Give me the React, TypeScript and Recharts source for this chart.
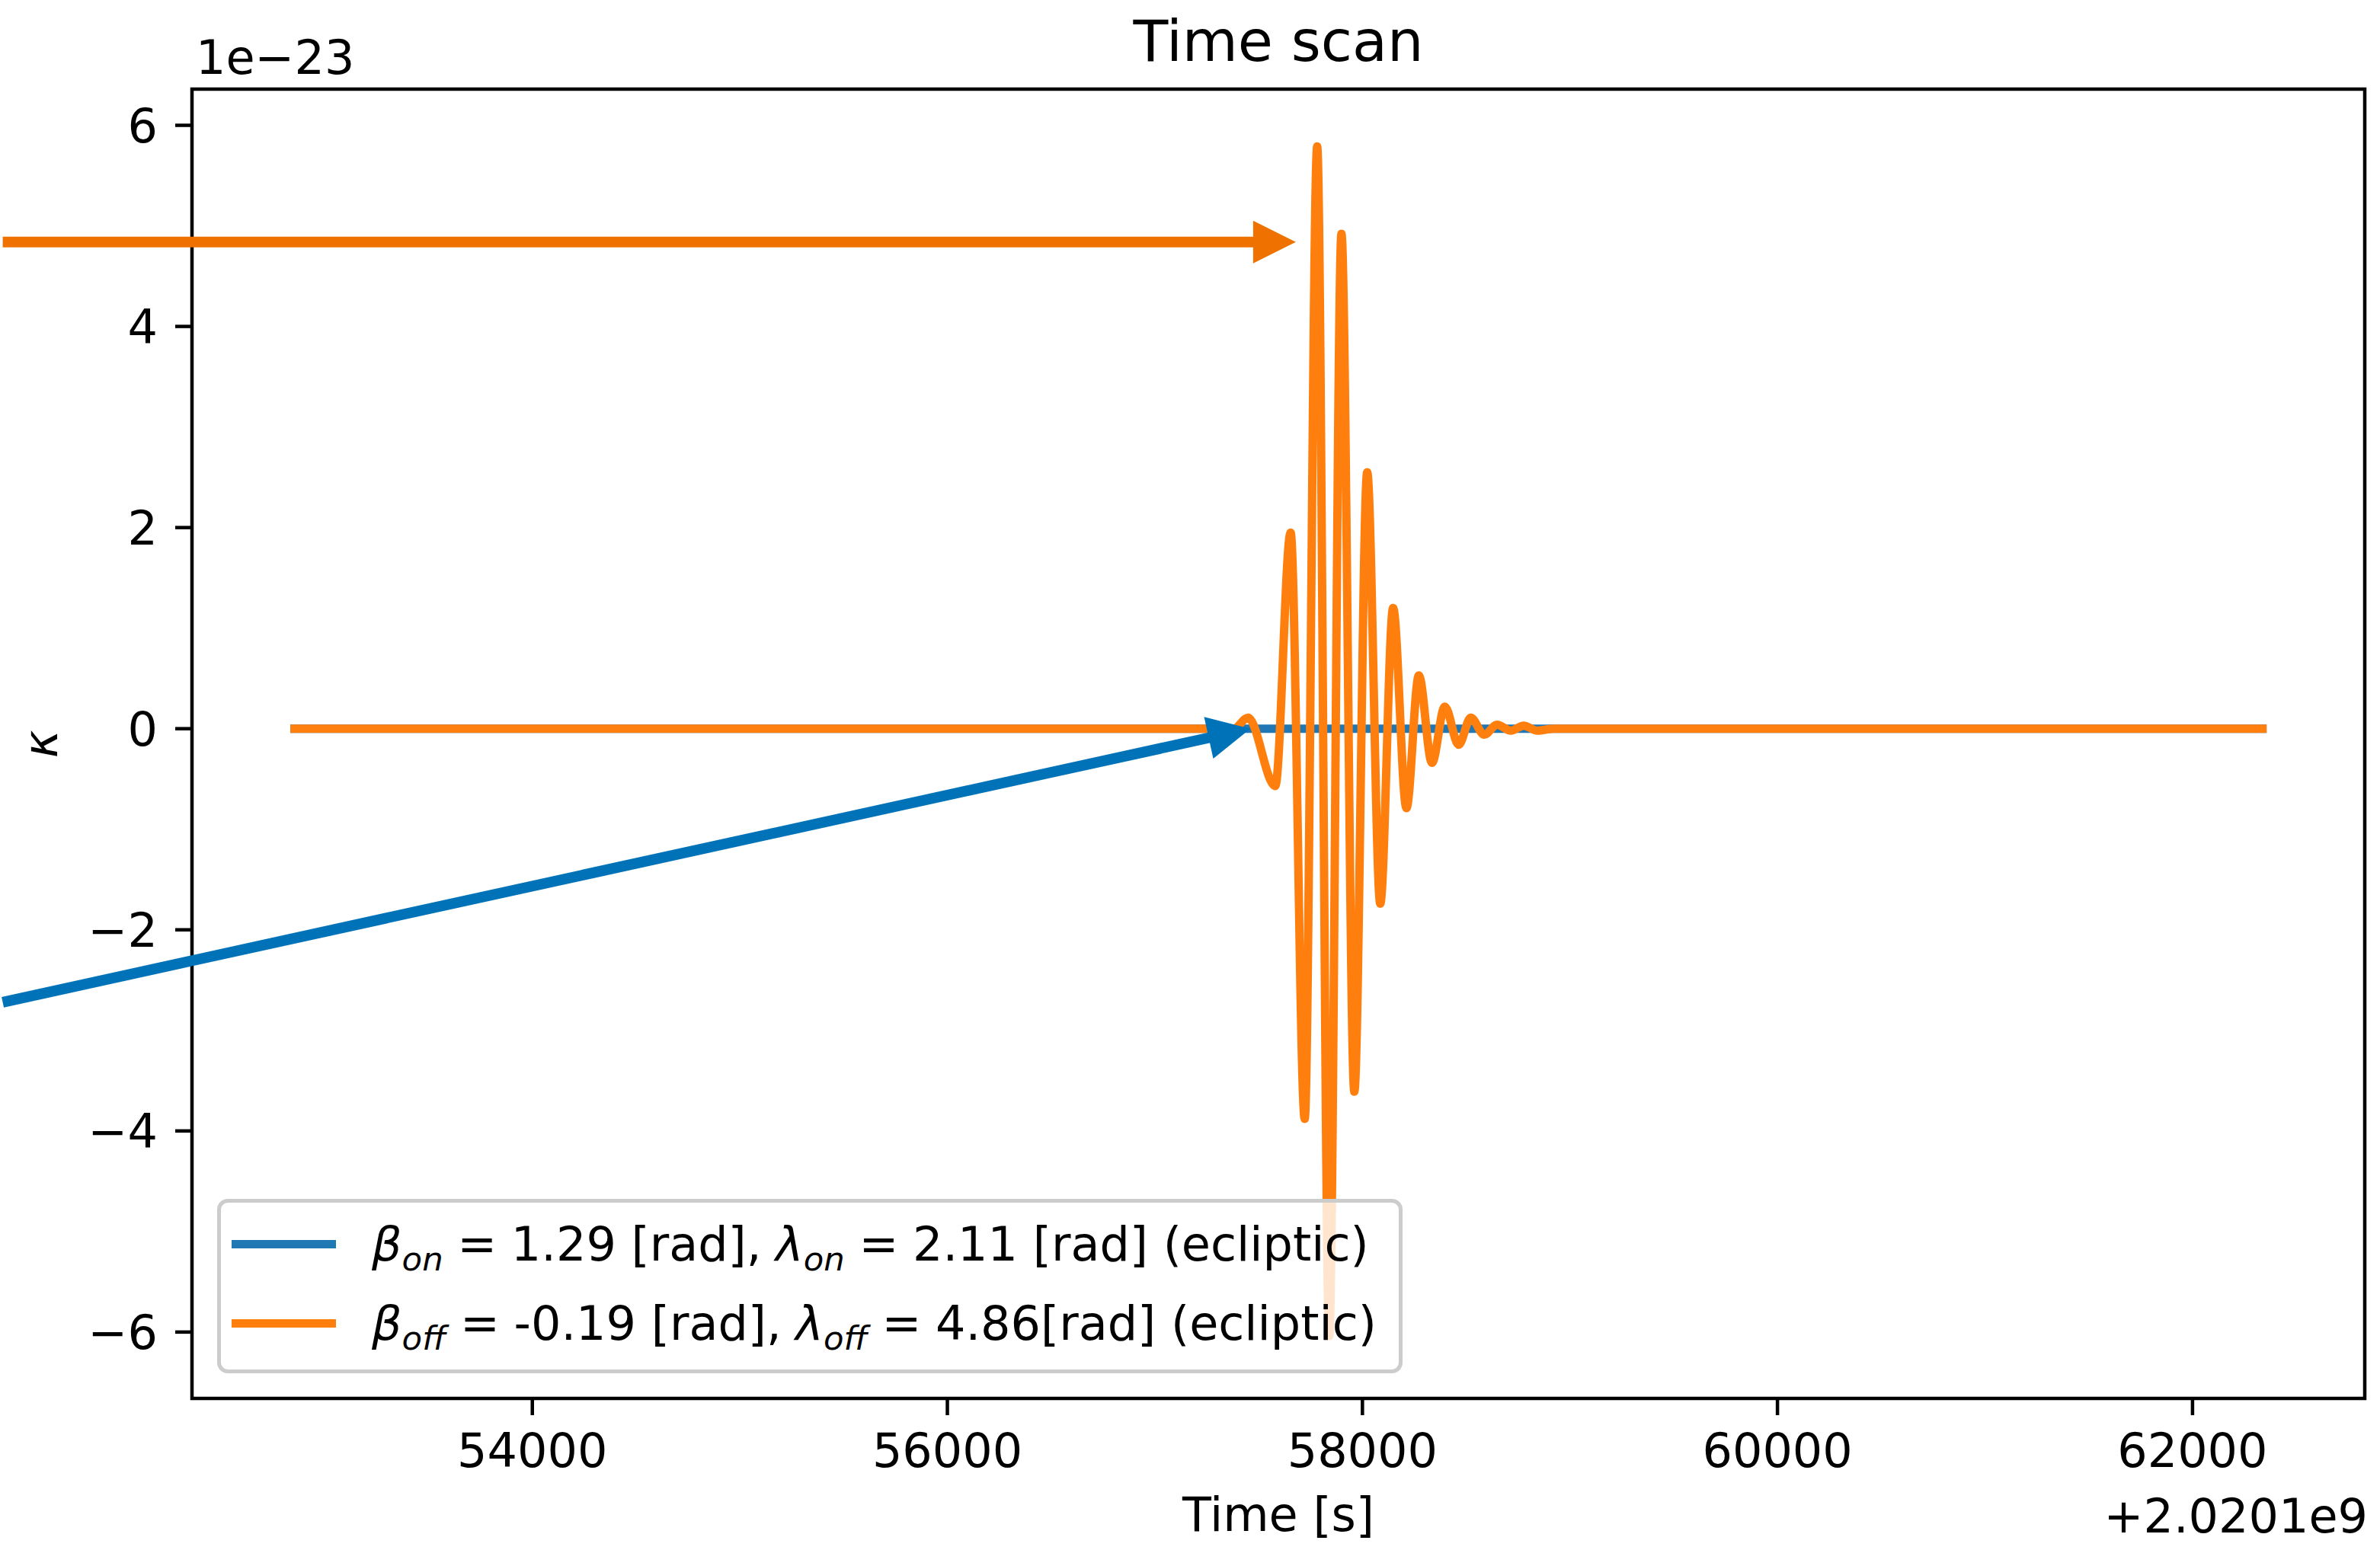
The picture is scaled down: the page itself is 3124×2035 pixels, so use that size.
import React from 'react';
import { LineChart, Line, XAxis, YAxis, ReferenceLine, ReferenceArea, Legend } from 'recharts';

// time offsets are relative to +2.0201e9 s, kappa in units of 1e-23
const timeOn = [52834, 62357];
const kappaOn = [0, 0];

const timeOff = [
  52834, 57380, 57449, 57580, 57654, 57722, 57782, 57840, 57899, 57961, 58023, 58086, 58148,
  58212, 58272, 58335, 58397, 58464, 58522, 58587, 58649, 58715, 58777, 58843, 58920, 62357,
];
const kappaOff = [
  0, 0, 0.11, -0.57, 1.95, -3.88, 5.79, -6.04, 4.92, -3.61, 2.55, -1.74, 1.2,
  -0.79, 0.53, -0.34, 0.22, -0.16, 0.11, -0.06, 0.04, -0.02, 0.03, -0.02, 0, 0,
];

const xTicks = [54000, 56000, 58000, 60000, 62000];
const yTicks = [-6, -4, -2, 0, 2, 4, 6];
const xDomain = [52360, 62830];
const yDomain = [-6.66, 6.36];

// legend labels: subscript, beta part, lambda part
const legendSubs = ['on', 'off'];
const legendBeta = ['1.29 [rad],', '-0.19 [rad],'];
const legendLambda = ['2.11 [rad] (ecliptic)', '4.86[rad] (ecliptic)'];

// annotation arrows (data coords): start -> tip
const arrowOffStart = [51448, 4.84];
const arrowOffTip = [57679, 4.84];
const arrowOnStart = [51448, -2.72];
const arrowOnTip = [57460, 0.0];

const BLUE = '#1f77b4';
const ORANGE = '#ff7f0e';
const FONT = '"DejaVu Sans", sans-serif';

const onData = timeOn.map((t, i) => ({ t, k: kappaOn[i] }));
const offData = timeOff.map((t, i) => ({ t, k: kappaOff[i] }));

const fmtY = (v: number) => (v < 0 ? `\u2212${-v}` : `${v}`);

const arrowShape = (color: string) => (props: any) => {
  const { x1, y1, x2, y2 } = props;
  const dx = x2 - x1;
  const dy = y2 - y1;
  const len = Math.hypot(dx, dy) || 1;
  const ux = dx / len;
  const uy = dy / len;
  const head = 56;
  const half = 28;
  const bx = x2 - ux * head;
  const by = y2 - uy * head;
  return (
    <g>
      <line x1={x1} y1={y1} x2={bx + ux * 2} y2={by + uy * 2} stroke={color} strokeWidth={14} />
      <polygon
        points={`${x2},${y2} ${bx - uy * half},${by + ux * half} ${bx + uy * half},${by - ux * half}`}
        fill={color}
      />
    </g>
  );
};

const eq = <span style={{ margin: '0 0.3em' }}>=</span>;
const subStyle = { fontSize: '70%', position: 'relative' as const, top: '0.3em' };

const renderLegend = () => {
  const colors = [BLUE, ORANGE];
  return (
    <div
      style={{
        position: 'relative',
        boxSizing: 'border-box',
        width: 1556,
        height: 229,
        border: '5px solid #cccccc',
        borderRadius: 14,
        background: 'rgba(255,255,255,0.8)',
        fontFamily: FONT,
        fontSize: 62,
        color: '#000',
      }}
    >
      {legendSubs.map((sub, i) => (
        <div
          key={sub}
          style={{
            position: 'absolute',
            left: 14,
            top: 54 + i * 104 - 40,
            height: 80,
            display: 'flex',
            alignItems: 'center',
            whiteSpace: 'pre',
          }}
        >
          <div style={{ width: 137, height: 11, background: colors[i], marginRight: 47 }} />
          <span>
            <i>β</i>
            <i style={subStyle}>{sub}</i>
            {eq}
            {legendBeta[i]}
            <span style={{ marginLeft: '0.3em' }} />
            <i>λ</i>
            <i style={subStyle}>{sub}</i>
            {eq}
            {legendLambda[i]}
          </span>
        </div>
      ))}
    </div>
  );
};

export default function App() {
  const tickStyle = { fontSize: 62, fill: '#000', fontFamily: FONT };
  return (
    <div style={{ position: 'absolute', left: 0, top: 0, width: 3124, height: 2035, background: '#fff' }}>
      <LineChart width={3124} height={2035} margin={{ top: 117, right: 20, left: 0, bottom: 0 }}>
        <XAxis
          dataKey="t"
          type="number"
          domain={xDomain}
          ticks={xTicks}
          allowDataOverflow
          axisLine={false}
          tickSize={22}
          tickMargin={24}
          tickLine={{ stroke: '#000', strokeWidth: 4.5 }}
          tick={tickStyle}
          height={199}
        />
        <YAxis
          type="number"
          domain={yDomain}
          ticks={yTicks}
          allowDataOverflow
          axisLine={false}
          tickSize={22}
          tickMargin={23}
          tickLine={{ stroke: '#000', strokeWidth: 4.5 }}
          tick={tickStyle}
          tickFormatter={fmtY}
          width={252}
        />
        <ReferenceArea
          x1={xDomain[0]}
          x2={xDomain[1]}
          y1={yDomain[0]}
          y2={yDomain[1]}
          fill="none"
          fillOpacity={0}
          stroke="#000"
          strokeWidth={4.5}
          ifOverflow="visible"
        />
        <Line
          data={onData}
          dataKey="k"
          type="monotone"
          stroke={BLUE}
          strokeWidth={11}
          dot={false}
          isAnimationActive={false}
        />
        <Line
          data={offData}
          dataKey="k"
          type="monotone"
          stroke={ORANGE}
          strokeWidth={11}
          dot={false}
          isAnimationActive={false}
        />
        <ReferenceLine
          segment={[
            { x: arrowOffStart[0], y: arrowOffStart[1] },
            { x: arrowOffTip[0], y: arrowOffTip[1] },
          ]}
          ifOverflow="visible"
          shape={arrowShape('#ef7100')}
        />
        <ReferenceLine
          segment={[
            { x: arrowOnStart[0], y: arrowOnStart[1] },
            { x: arrowOnTip[0], y: arrowOnTip[1] },
          ]}
          ifOverflow="visible"
          shape={arrowShape('#0072b8')}
        />
        <Legend
          content={renderLegend}
          layout="vertical"
          align="center"
          verticalAlign="middle"
          wrapperStyle={{ left: 285, top: 1574, width: 1556 }}
        />
        <text x={1678} y={80} textAnchor="middle" fontSize={75} fontFamily={FONT} fill="#000">
          Time scan
        </text>
        <text x={257} y={97} textAnchor="start" fontSize={62} fontFamily={FONT} fill="#000">
          1e−23
        </text>
        <text x={1678} y={2010} textAnchor="middle" fontSize={62} fontFamily={FONT} fill="#000">
          Time [s]
        </text>
        <text x={3108} y={2012} textAnchor="end" fontSize={62} fontFamily={FONT} fill="#000">
          +2.0201e9
        </text>
        <text
          transform="translate(53,977) rotate(-90)"
          textAnchor="middle"
          dominantBaseline="central"
          fontSize={62}
          fontStyle="italic"
          fontFamily={FONT}
          fill="#000"
        >
          κ
        </text>
      </LineChart>
    </div>
  );
}
